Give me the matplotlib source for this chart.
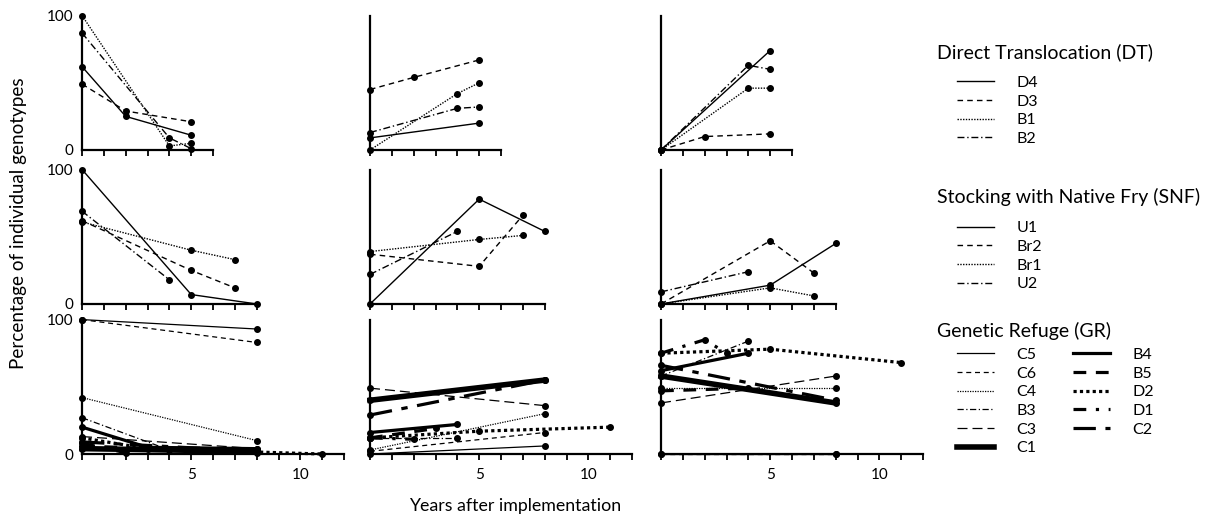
import matplotlib.pyplot as plt
from matplotlib.lines import Line2D

plt.rcParams['font.family'] = ['Lato', 'DejaVu Sans']

# Direct Translocation (top row)
dt_names = ['D4', 'D3', 'B1', 'B2']
dt_a_x = [[0, 2, 5], [0, 2, 5], [0, 4, 5], [0, 4, 5]]
dt_a_y = [[62, 25, 11], [49, 29, 21], [100, 3, 5], [87, 9, 1]]
dt_b_x = [[0, 5], [0, 2, 5], [0, 4, 5], [0, 4, 5]]
dt_b_y = [[9, 20], [45, 54, 67], [0, 42, 50], [13, 31, 32]]
dt_c_x = [[0, 5], [0, 2, 5], [0, 4, 5], [0, 4, 5]]
dt_c_y = [[0, 74], [0, 10, 12], [0, 46, 46], [0, 63, 60]]

# Stocking with Native Fry (middle row)
snf_names = ['U1', 'Br2', 'Br1', 'U2']
snf_a_x = [[0, 5, 8], [0, 5, 7], [0, 5, 7], [0, 4]]
snf_a_y = [[100, 7, 0], [62, 25, 12], [61, 40, 33], [69, 18]]
snf_b_x = [[0, 5, 8], [0, 5, 7], [0, 5, 7], [0, 4]]
snf_b_y = [[0, 78, 54], [37, 28, 66], [39, 48, 51], [22, 54]]
snf_c_x = [[0, 5, 8], [0, 5, 7], [0, 5, 7], [0, 4]]
snf_c_y = [[0, 14, 45], [0, 47, 23], [0, 12, 6], [9, 24]]

# Genetic Refuge (bottom row)
gr_names = ['C5', 'C6', 'C4', 'B3', 'C3', 'C1', 'B4', 'B5', 'D2', 'D1', 'C2']
gr_a_x = [[0, 8], [0, 8], [0, 8], [0, 4, 8], [0, 8], [0, 8], [0, 3, 8],
          [0, 8], [0, 3, 11], [0, 2], [0, 8]]
gr_a_y = [[100, 93], [100, 83], [42, 10], [27, 3, 2], [13, 4], [4, 2], [20, 5, 4],
          [6, 1], [12, 4, 0], [8, 1], [9, 2]]
gr_b_x = [[0, 8], [0, 8], [0, 8], [0, 4], [0, 8], [0, 8], [0, 4],
          [0, 3], [0, 5, 11], [0, 2], [0, 8]]
gr_b_y = [[0, 6], [2, 16], [3, 30], [12, 12], [49, 36], [40, 55], [16, 22],
          [12, 19], [12, 17, 20], [12, 11], [29, 55]]
gr_c_x = [[0, 8], [0, 8], [0, 8], [0, 4], [0, 8], [0, 8], [0, 4],
          [0, 4], [0, 5, 11], [0, 2, 3], [0, 8]]
gr_c_y = [[0, 0], [0, 0], [49, 49], [58, 84], [38, 58], [58, 38], [62, 75],
          [47, 49], [75, 78, 68], [75, 85, 75], [66, 40]]

# line styles (linestyle, linewidth)
four_styles = [('-', 1.0), ((0, (4, 3)), 1.0), ((0, (1, 1)), 1.0), ((0, (5, 2, 1, 2)), 1.0)]
gr_styles = [('-', 0.9), ((0, (4, 3)), 0.9), ((0, (1, 1)), 0.9), ((0, (5, 2, 1, 2)), 0.9),
             ((0, (8, 4)), 0.9), ('-', 4.0), ('-', 2.3), ((0, (4, 3)), 2.3),
             ((0, (1, 1)), 2.3), ((0, (4, 3, 1, 3)), 2.3), ((0, (7, 3, 2, 3)), 2.3)]

rows = [
    (dt_names, four_styles, [(dt_a_x, dt_a_y), (dt_b_x, dt_b_y), (dt_c_x, dt_c_y)], 6),
    (snf_names, four_styles, [(snf_a_x, snf_a_y), (snf_b_x, snf_b_y), (snf_c_x, snf_c_y)], 8),
    (gr_names, gr_styles, [(gr_a_x, gr_a_y), (gr_b_x, gr_b_y), (gr_c_x, gr_c_y)], 12),
]

fig = plt.figure(figsize=(12.12, 5.19), dpi=100)
lefts = [0.0677, 0.3053, 0.5454]
bottoms = [0.7110, 0.4143, 0.1252]
w, h = 0.2162, 0.2590

for r, (names, styles, panels, xmax) in enumerate(rows):
    for c, (xs, ys) in enumerate(panels):
        ax = fig.add_axes([lefts[c], bottoms[r], w, h])
        for (x, y), (ls, lw) in zip(zip(xs, ys), styles):
            ax.plot(x, y, color='black', linestyle=ls, linewidth=lw,
                    marker='o', markersize=4, clip_on=False)
        ax.set_xlim(0, 12)
        ax.set_ylim(0, 100)
        for s in ['top', 'right']:
            ax.spines[s].set_visible(False)
        ax.spines['left'].set_linewidth(1.6)
        ax.spines['bottom'].set_linewidth(1.6)
        ax.spines['bottom'].set_bounds(0, xmax)
        ax.set_xticks(range(0, xmax + 1))
        if r == 2:
            ax.set_xticklabels(['5' if t == 5 else '10' if t == 10 else '' for t in range(0, xmax + 1)])
        else:
            ax.set_xticklabels([])
        ax.tick_params(axis='x', direction='out', length=4, width=1.3, labelsize=11, pad=6)
        ax.set_yticks([0, 100])
        if c == 0:
            ax.set_yticklabels(['0', '100'])
        else:
            ax.set_yticklabels([])
        ax.tick_params(axis='y', length=0, labelsize=11, pad=6)

fig.text(0.015, 0.57, 'Percentage of individual genotypes', rotation=90,
         ha='center', va='center', fontsize=13.6)
fig.text(0.425, 0.025, 'Years after implementation', ha='center', va='center', fontsize=12.8)

# legends
def handles(names, styles):
    return [Line2D([], [], color='black', linestyle=ls, linewidth=lw) for ls, lw in styles[:len(names)]]

titles = ['Direct Translocation (DT)', 'Stocking with Native Fry (SNF)', 'Genetic Refuge (GR)']
title_y = [0.900, 0.620, 0.363]
leg_y = [0.854, 0.574, 0.330]
groups = [(dt_names, four_styles), (snf_names, four_styles), (gr_names, gr_styles)]
for t, ty, ly, (names, styles) in zip(titles, title_y, leg_y, groups):
    fig.text(0.773, ty, t, fontsize=14, ha='left', va='center')
    fig.legend(handles(names, styles), names, loc='upper left', bbox_to_anchor=(0.790, ly),
               ncol=2 if len(names) > 4 else 1, frameon=False, fontsize=11.5,
               handlelength=2.3, handletextpad=1.4, labelspacing=0.28,
               columnspacing=2.3, borderpad=0, borderaxespad=0)

fig.savefig('out.png', dpi=100)
